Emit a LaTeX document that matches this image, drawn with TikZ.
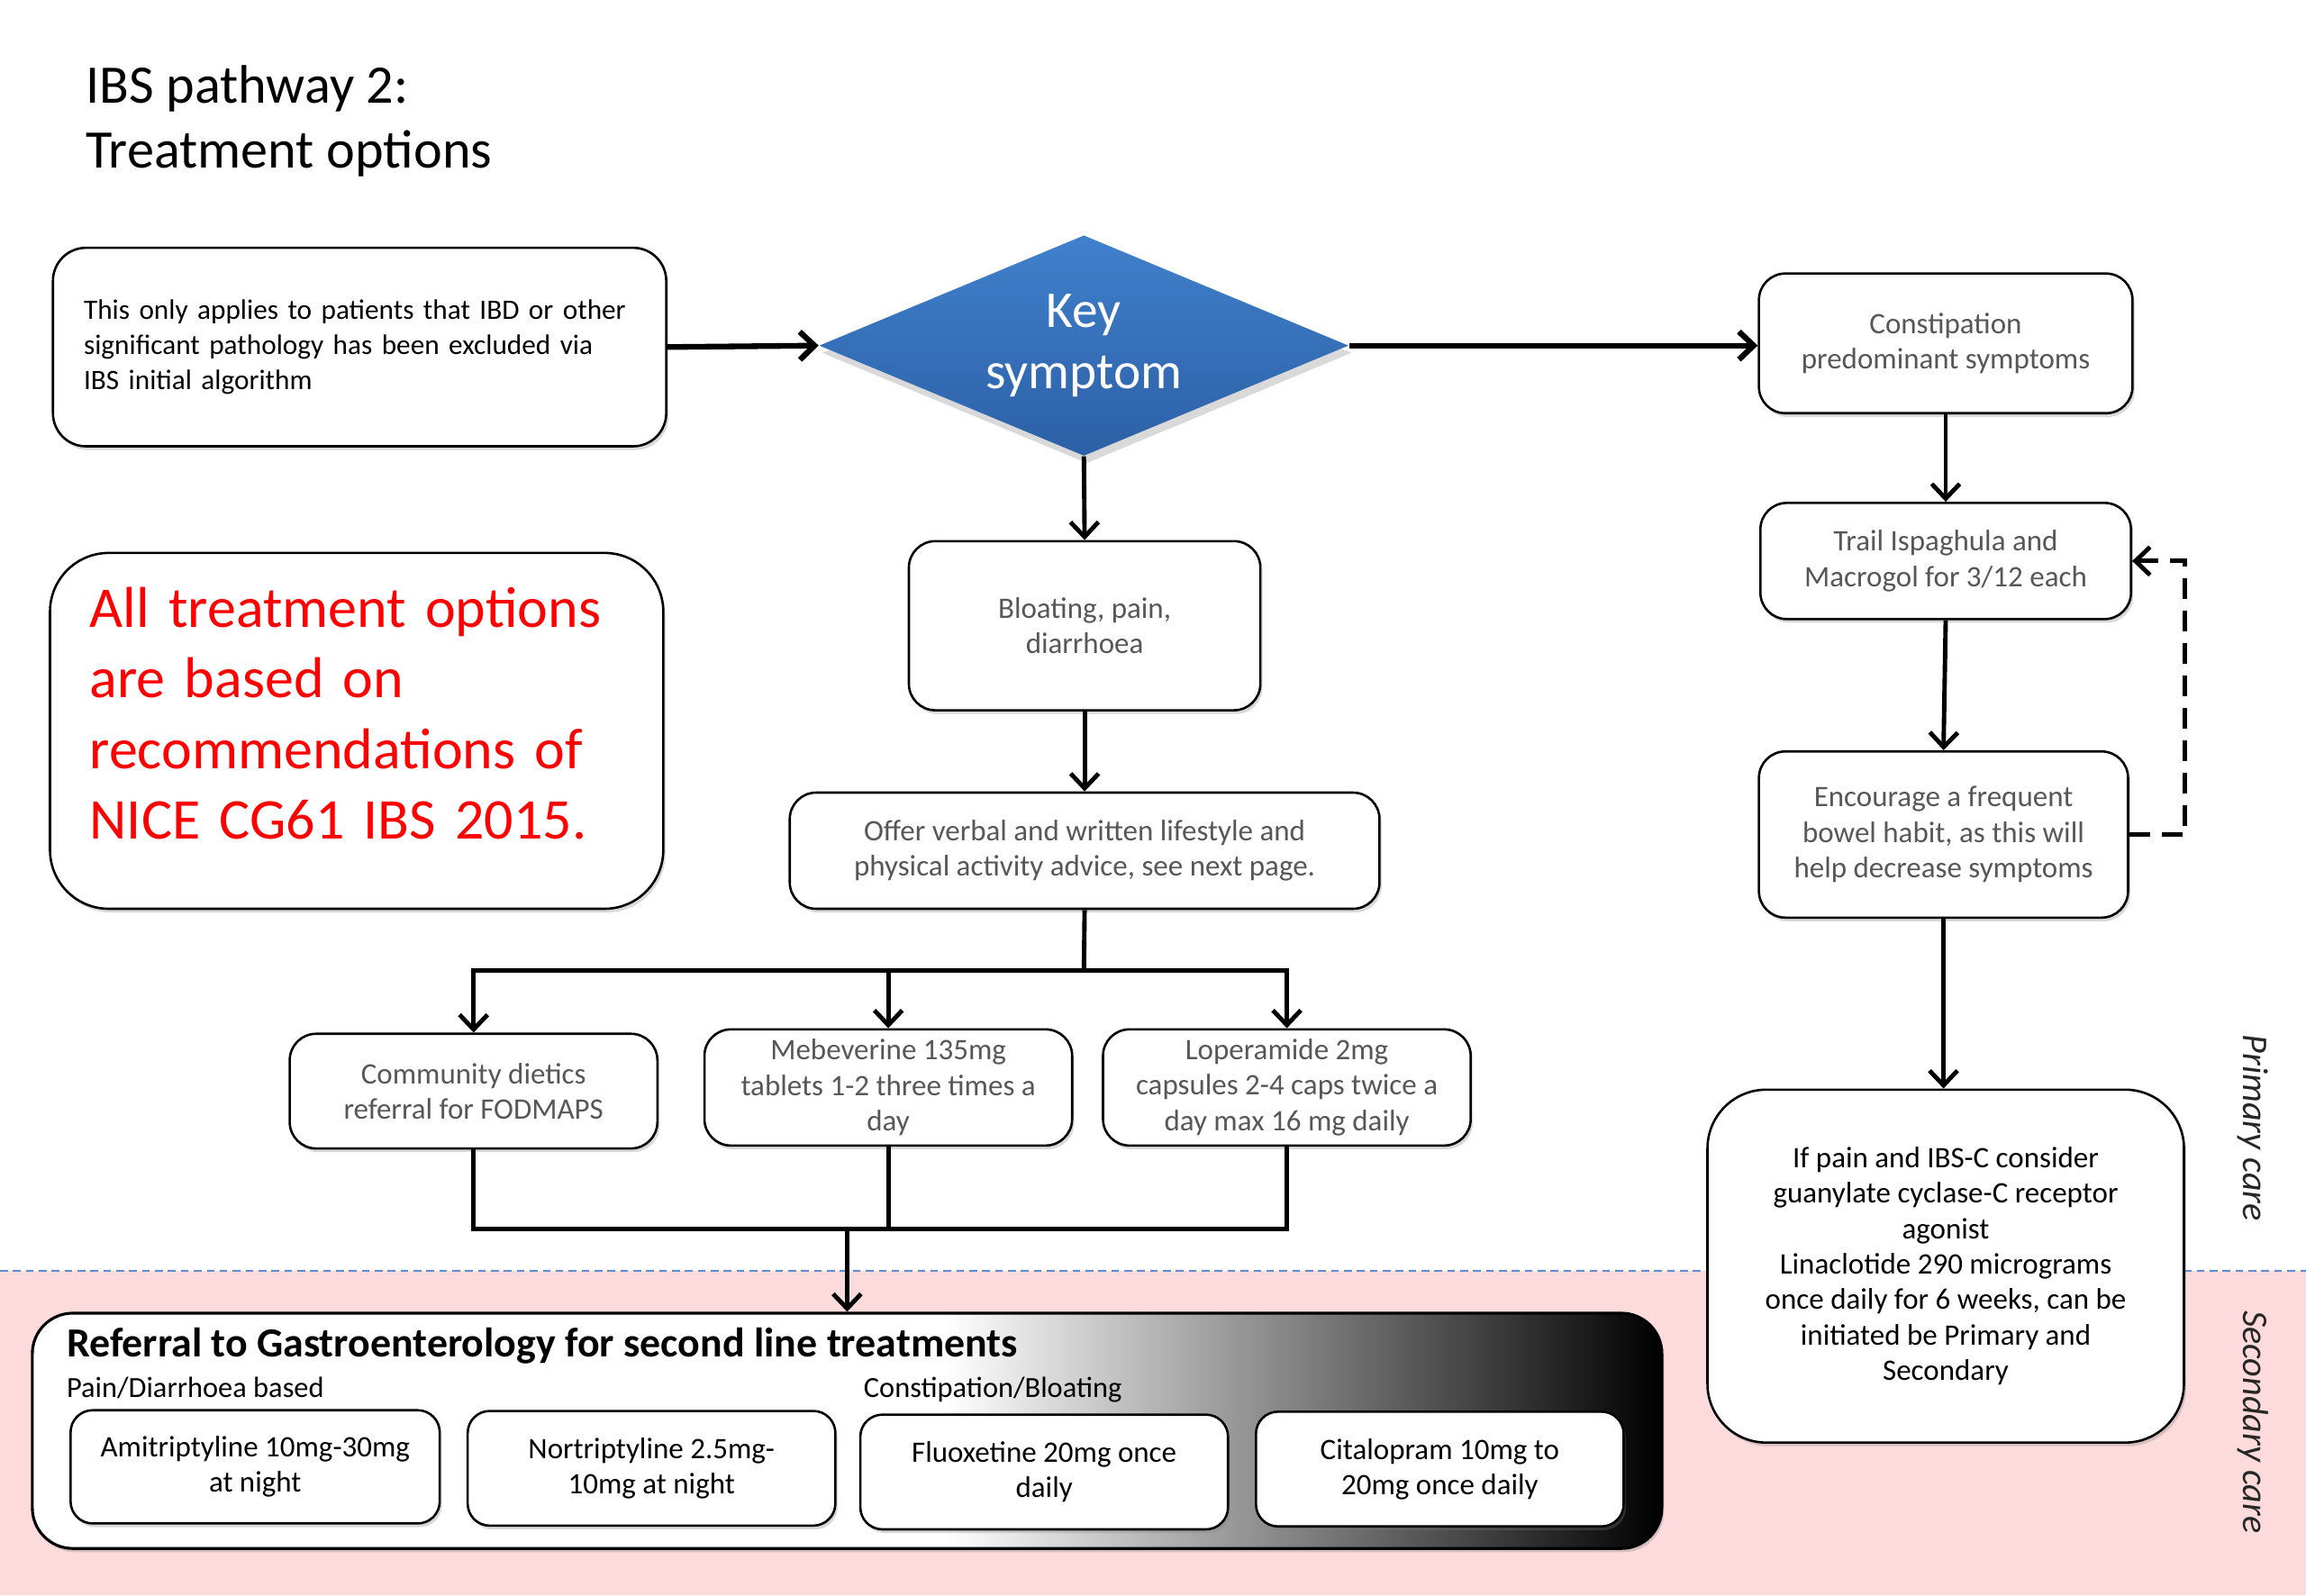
\documentclass[tikz,border=0pt]{standalone}
\usepackage{fontspec}
\setmainfont{Carlito}
\usetikzlibrary{arrows.meta,shapes.geometric,shadows}

\definecolor{keytop}{RGB}{64,128,204}
\definecolor{keybot}{RGB}{44,96,166}
\definecolor{carepink}{RGB}{253,218,219}
\definecolor{careline}{RGB}{95,140,205}
\definecolor{notered}{RGB}{255,0,0}
\pgfdeclarehorizontalshading{refgrad}{100bp}{color(0bp)=(white); color(53bp)=(white); color(75bp)=(black); color(100bp)=(black)}

\begin{document}
\begin{tikzpicture}[x=0.2mm,y=-0.2mm,
  box/.style={draw,rounded corners=3.6mm,line width=0.9pt,fill=white,align=center,inner sep=0pt,
    font=\fontsize{11.5}{13.7}\selectfont,
    drop shadow={shadow xshift=0.3mm,shadow yshift=-0.5mm,opacity=0.3}},
  greybox/.style={box,text=black!66},
  keynode/.style={diamond,aspect=2.4,inner sep=0pt,minimum width=72mm,minimum height=30mm,
    top color=keytop,bottom color=keybot,text=white,align=center,
    font=\fontsize{20}{24}\selectfont,
    drop shadow={shadow xshift=0.4mm,shadow yshift=-1mm,opacity=0.3}},
  flow/.style={line width=1.7pt,-{Straight Barb[length=2mm,width=3.8mm]}},
  bigflow/.style={flow,line width=2.2pt},
  plain/.style={line width=1.7pt},
  caretext/.style={rotate=-90,font=\fontsize{14}{16}\selectfont\itshape,text=black!85}]

\useasboundingbox (0,0) rectangle (1568,1085);

% primary / secondary care
\fill[carepink] (0,864) rectangle (1568,1085);
\draw[careline,line width=0.7pt,dash pattern=on 3pt off 2pt] (0,864) -- (1568,864);
\node[caretext] (primary) at (1532,767) {Primary care};
\node[caretext] (secondary) at (1532,967) {Secondary care};

% title
\node[anchor=base west,inner sep=0pt,font=\fontsize{21}{25}\selectfont] (title1) at (58,70) {IBS pathway 2:};
\node[anchor=base west,inner sep=0pt,font=\fontsize{21}{25}\selectfont] (title2) at (58,114) {Treatment options};

% left notes
\node[box,rounded corners=4.5mm,minimum height=27mm,text width=75mm,inner xsep=4.2mm,align=left,
  font=\fontsize{10.9}{13.7}\selectfont] (intro) at (244.5,236)
  {This only applies to patients that IBD or other\\significant pathology has been excluded via\\IBS initial algorithm};
\node[box,rounded corners=8mm,minimum height=48.4mm,text width=72.6mm,inner xsep=5.4mm,align=left,
  text=notered,text depth=95.5pt,font=\fontsize{22.3}{27.3}\selectfont] (note) at (242.5,497)
  {All treatment options\\are based on\\recommendations of\\NICE CG61 IBS 2015.};

\node[keynode] (key) at (737,235) {Key\\symptom};

% diarrhoea side
\node[greybox,minimum width=47.8mm,minimum height=23mm] (bloat) at (737.5,425.5) {Bloating, pain,\\diarrhoea};
\node[greybox,minimum width=80.2mm,minimum height=15.8mm] (offer) at (737.5,578.5)
  {Offer verbal and written lifestyle and\\physical activity advice, see next page.};
\node[greybox,minimum width=50mm,minimum height=15.6mm] (diet) at (322,742) {Community dietics\\referral for FODMAPS};
\node[greybox,minimum width=50mm,minimum height=15.8mm] (mebev) at (604,739.5) {Mebeverine 135mg\\tablets 1-2 three times a\\day};
\node[greybox,minimum width=50mm,minimum height=15.8mm] (loper) at (875,739.5) {Loperamide 2mg\\capsules 2-4 caps twice a\\day max 16 mg daily};

% constipation side
\node[greybox,minimum width=50.8mm,minimum height=19mm] (constip) at (1323,233.5) {Constipation\\predominant symptoms};
\node[greybox,minimum width=50.4mm,minimum height=15.8mm] (trail) at (1323,381.5) {Trail Ispaghula and\\Macrogol for 3/12 each};
\node[greybox,minimum width=50.2mm,minimum height=22.6mm] (habit) at (1321.5,567.5) {Encourage a frequent\\bowel habit, as this will\\help decrease symptoms};
\node[box,rounded corners=8mm,minimum width=64.8mm,minimum height=48mm] (linac) at (1323,861)
  {If pain and IBS-C consider\\guanylate cyclase-C receptor\\agonist\\Linaclotide 290 micrograms\\once daily for 6 weeks, can be\\initiated be Primary and\\Secondary};

% second line
\node[box,rounded corners=5.5mm,line width=1.1pt,shading=refgrad,minimum width=221.6mm,minimum height=32mm] (referral) at (576,973) {};
\node[anchor=base west,inner sep=0pt,font=\fontsize{16}{18}\selectfont\bfseries] (reftitle) at (45,923) {Referral to Gastroenterology for second line treatments};
\node[anchor=base west,inner sep=0pt,font=\fontsize{11.3}{13}\selectfont] (painlbl) at (45,950) {Pain/Diarrhoea based};
\node[anchor=base west,inner sep=0pt,font=\fontsize{11.3}{13}\selectfont] (conslbl) at (587,950) {Constipation/Bloating};
\node[box,rounded corners=3mm,minimum width=50.2mm,minimum height=15.4mm] (amit) at (173.5,997.5) {Amitriptyline 10mg-30mg\\at night};
\node[box,rounded corners=3mm,minimum width=50mm,minimum height=15.6mm] (nort) at (443,998.5) {Nortriptyline 2.5mg-\\10mg at night};
\node[box,rounded corners=3mm,minimum width=50mm,minimum height=15.6mm] (fluox) at (710,1001) {Fluoxetine 20mg once\\daily};
\node[box,rounded corners=3mm,minimum width=50mm,minimum height=15.6mm] (cital) at (979,999) {Citalopram 10mg to\\20mg once daily};

% connectors
\draw[bigflow] (intro.east) -- (key.west);
\draw[bigflow] (key.east) -- (key.east -| constip.west);
\draw[flow] (key.south) -- (bloat.north);
\draw[flow] (bloat.south) -- (offer.north);

\coordinate (split) at (737,660);
\coordinate (merge) at (576,836);
\draw[plain] (offer.south) -- (split);
\draw[flow] (split) -| (diet.north);
\draw[flow] (split) -| (mebev.north);
\draw[flow] (split) -| (loper.north);
\draw[plain] (diet.south) |- (merge);
\draw[plain] (loper.south) |- (merge);
\draw[plain] (mebev.south) -- (mebev.south |- merge);
\draw[flow] (merge) -- (referral.north);

\draw[flow] (constip.south) -- (trail.north);
\draw[flow] (trail.south) -- (habit.north);
\draw[flow] (habit.south) -- (habit.south |- linac.north);
\draw[flow,dash pattern=on 2.8mm off 1.6mm] (habit.east) -- ++(38,0) |- (trail.east);

\end{tikzpicture}
\end{document}
